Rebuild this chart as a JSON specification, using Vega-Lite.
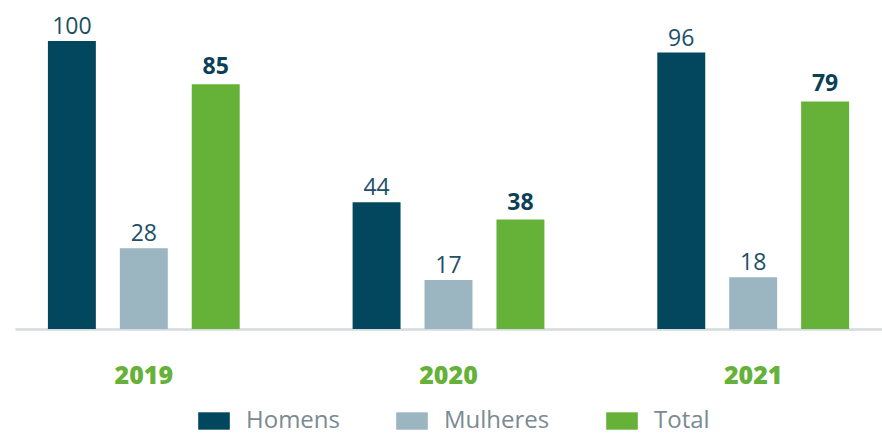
{
  "$schema": "https://vega.github.io/schema/vega-lite/v6.json",
  "autosize": "none",
  "width": 867,
  "height": 288,
  "padding": {"left": 15, "top": 41, "right": 0, "bottom": 106},
  "background": "white",
  "view": {"stroke": null},
  "data": {
    "values": [
      {"ano": "2019", "grupo": "Homens", "valor": 100},
      {"ano": "2019", "grupo": "Mulheres", "valor": 28},
      {"ano": "2019", "grupo": "Total", "valor": 85},
      {"ano": "2020", "grupo": "Homens", "valor": 44},
      {"ano": "2020", "grupo": "Mulheres", "valor": 17},
      {"ano": "2020", "grupo": "Total", "valor": 38},
      {"ano": "2021", "grupo": "Homens", "valor": 96},
      {"ano": "2021", "grupo": "Mulheres", "valor": 18},
      {"ano": "2021", "grupo": "Total", "valor": 79}
    ]
  },
  "encoding": {
    "x": {
      "field": "ano",
      "type": "nominal",
      "scale": {"paddingInner": 0.3705, "paddingOuter": 0.108},
      "axis": {
        "title": null,
        "labelAngle": 0,
        "ticks": false,
        "domain": true,
        "domainColor": "#d5dadd",
        "domainWidth": 2.5,
        "labelFont": "Open Sans",
        "labelFontSize": 25,
        "labelFontWeight": 800,
        "labelColor": "#66b239",
        "labelPadding": 34
      }
    },
    "xOffset": {
      "field": "grupo",
      "type": "nominal",
      "scale": {"paddingInner": 0.3333, "paddingOuter": 0}
    },
    "y": {
      "field": "valor",
      "type": "quantitative",
      "scale": {"domain": [0, 100], "nice": false},
      "axis": null
    }
  },
  "layer": [
    {
      "mark": {"type": "bar"},
      "encoding": {
        "color": {
          "field": "grupo",
          "type": "nominal",
          "scale": {
            "domain": ["Homens", "Mulheres", "Total"],
            "range": ["#02475e", "#9bb5c1", "#66b239"]
          },
          "legend": {
            "title": null,
            "orient": "none",
            "direction": "horizontal",
            "legendX": 183,
            "legendY": 364,
            "symbolType": "M-1,-0.55H1V0.55H-1Z",
            "symbolSize": 1000,
            "symbolStrokeWidth": 0,
            "symbolOpacity": 1,
            "labelFont": "Open Sans",
            "labelFontSize": 24,
            "labelColor": "#7b8a91",
            "labelOffset": 16,
            "labelLimit": 300,
            "columnPadding": 56
          }
        }
      }
    },
    {
      "transform": [{"filter": "datum.grupo !== 'Total'"}],
      "mark": {
        "type": "text",
        "dy": -7,
        "baseline": "alphabetic",
        "font": "Open Sans",
        "fontSize": 23,
        "color": "#1d4f66"
      },
      "encoding": {"text": {"field": "valor", "type": "quantitative"}}
    },
    {
      "transform": [{"filter": "datum.grupo === 'Total'"}],
      "mark": {
        "type": "text",
        "dy": -10,
        "baseline": "alphabetic",
        "font": "Open Sans",
        "fontSize": 23,
        "fontWeight": "bold",
        "color": "#0b4057"
      },
      "encoding": {"text": {"field": "valor", "type": "quantitative"}}
    }
  ]
}
